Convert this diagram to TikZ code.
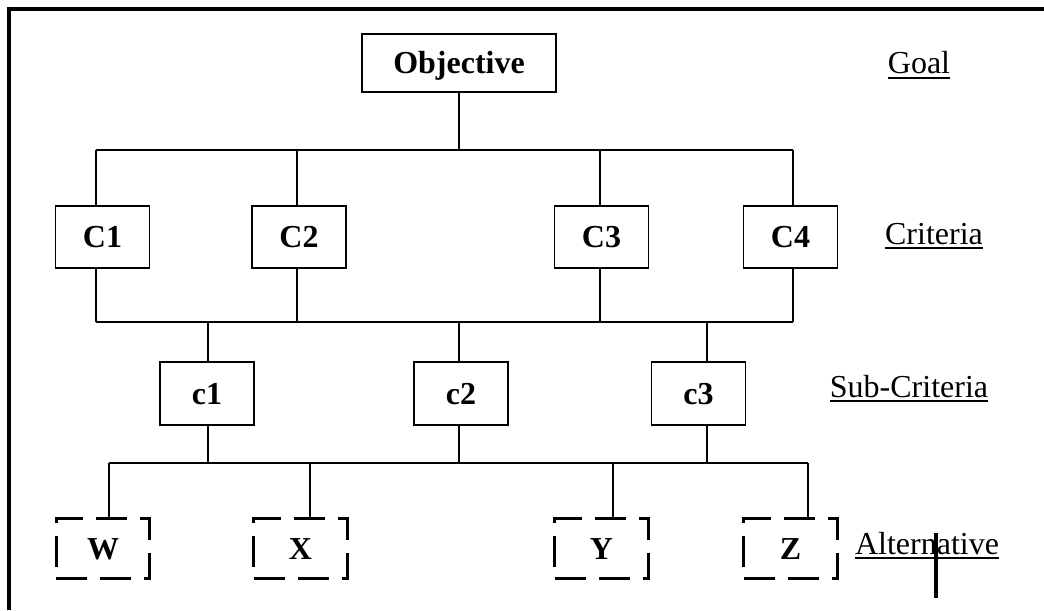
\documentclass[tikz,border=0pt]{standalone}
\usepackage{fontspec}
\setmainfont{Liberation Serif}
\usetikzlibrary{calc}

\tikzset{
  box/.style={draw, line width=1.1pt, inner sep=0pt,
    font=\bfseries\fontsize{24}{28}\selectfont, text height=16pt, text depth=0pt},
  critbox/.style={box, minimum width=70.5pt, minimum height=46.5pt},
  altbox/.style={box, line width=2.3pt, dash pattern=on 23pt off 10pt,
    minimum width=70pt, minimum height=45pt},
  level/.style={inner sep=0pt, anchor=base, font=\fontsize{24}{28}\selectfont},
  link/.style={line width=1.1pt}
}

\begin{document}
\begin{tikzpicture}[x=0.75pt, y=-0.75pt]

\useasboundingbox (0,0) rectangle (1044,610);

% Frame (top and left only)
\draw[line width=3pt] (8.5,610) -- (8.5,9.5) -- (1044,9.5);

% Goal
\node[box, minimum width=145.5pt, minimum height=43.5pt] (obj) at (459,63) {Objective};

% Criteria
\foreach \n/\x in {1/102.5, 2/299, 3/601.5, 4/790.5}
  \node[critbox] (crit\n) at (\x,237) {C\n};

% Sub-criteria
\foreach \n/\x in {1/207, 2/461, 3/698.5}
  \node[critbox, minimum height=47.25pt] (sub\n) at (\x,393.5) {c\n};

% Alternatives (dashed)
\foreach \n/\t/\x in {1/W/103, 2/X/300.5, 3/Y/601.5, 4/Z/790.5}
  \node[altbox] (alt\n) at (\x,548.5) {\t};

% Goal to criteria
\coordinate (top) at (459,150);
\draw[link] (obj) -- (top);
\foreach \i/\x in {1/96, 2/297, 3/600, 4/793}{
  \coordinate (u\i) at (\x,150);
  \coordinate (l\i) at (\x,322);
  \draw[link] (u\i) -- (u\i |- crit\i.north);
  \draw[link] (crit\i.south -| l\i) -- (l\i);
}
\draw[link] (u1) -- (u4);
\draw[link] (l1) -- (l4);

% Criteria to sub-criteria to alternatives
\foreach \i/\x in {1/208, 2/459, 3/707}{
  \coordinate (m\i) at (\x,322);
  \coordinate (d\i) at (\x,463);
  \draw[link] (m\i) -- (m\i |- sub\i.north);
  \draw[link] (sub\i.south -| d\i) -- (d\i);
}
\foreach \i/\x in {1/109, 2/310, 3/613, 4/808}{
  \coordinate (a\i) at (\x,463);
  \draw[link] (a\i) -- (a\i |- alt\i.north);
}
\draw[link] (a1) -- (a4);

% Level labels, underlined
\foreach \nm/\txt/\x/\y in {goal/Goal/919/74, crits/Criteria/934/244,
    subs/Sub-Criteria/909/397, alts/Alternative/927/554}{
  \node[level] (\nm) at (\x,\y) {\txt};
  \draw[line width=1.5pt] ([yshift=-3pt]\nm.base west) -- ([yshift=-3pt]\nm.base east);
}

% stray bar over the last label
\coordinate (bar) at (936,533);
\draw[line width=2.6pt] (bar) -- ++(0,65);

\end{tikzpicture}
\end{document}
